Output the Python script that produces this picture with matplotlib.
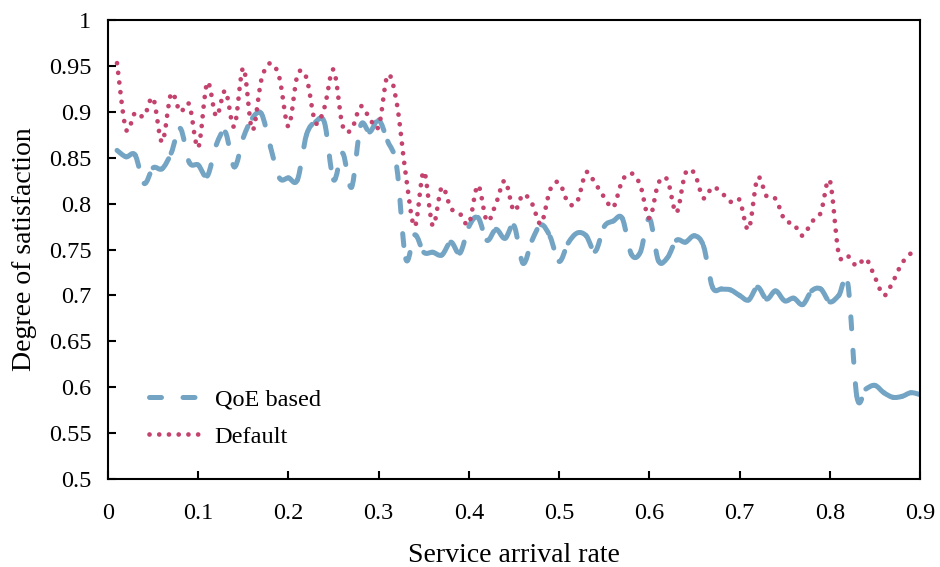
import matplotlib
matplotlib.use("Agg")
import matplotlib.pyplot as plt
import numpy as np
from matplotlib.path import Path
from matplotlib.patches import PathPatch
from matplotlib.lines import Line2D
from matplotlib.ticker import FuncFormatter, MultipleLocator

# service arrival rate, one sample every 0.01
rates = [round(i * 0.01, 2) for i in range(1, 91)]

qoe_based = [
    0.858, 0.851, 0.853, 0.822, 0.839, 0.838, 0.855, 0.882, 0.845, 0.842,
    0.830, 0.864, 0.878, 0.840, 0.872, 0.893, 0.898, 0.862, 0.828, 0.828,
    0.826, 0.875, 0.889, 0.888, 0.826, 0.855, 0.818, 0.885, 0.878, 0.891,
    0.868, 0.840, 0.740, 0.766, 0.747, 0.747, 0.744, 0.758, 0.746, 0.775,
    0.785, 0.760, 0.772, 0.762, 0.776, 0.735, 0.760, 0.777, 0.764, 0.737,
    0.757, 0.768, 0.765, 0.748, 0.775, 0.781, 0.784, 0.745, 0.747, 0.784,
    0.738, 0.741, 0.760, 0.758, 0.765, 0.754, 0.709, 0.707, 0.706, 0.700,
    0.695, 0.709, 0.696, 0.705, 0.694, 0.697, 0.690, 0.705, 0.707, 0.693,
    0.700, 0.713, 0.590, 0.598, 0.602, 0.594, 0.589, 0.590, 0.594, 0.592,
]

default = [
    0.953, 0.881, 0.899, 0.895, 0.915, 0.867, 0.920, 0.900, 0.908, 0.861,
    0.932, 0.895, 0.923, 0.884, 0.948, 0.880, 0.935, 0.953, 0.937, 0.884,
    0.940, 0.937, 0.888, 0.905, 0.946, 0.885, 0.881, 0.906, 0.893, 0.884,
    0.940, 0.910, 0.832, 0.775, 0.835, 0.776, 0.818, 0.795, 0.789, 0.778,
    0.820, 0.781, 0.800, 0.825, 0.792, 0.810, 0.800, 0.778, 0.815, 0.823,
    0.801, 0.802, 0.834, 0.822, 0.807, 0.796, 0.825, 0.833, 0.820, 0.784,
    0.822, 0.826, 0.790, 0.833, 0.833, 0.806, 0.818, 0.812, 0.802, 0.804,
    0.772, 0.828, 0.808, 0.805, 0.782, 0.778, 0.765, 0.780, 0.790, 0.825,
    0.745, 0.743, 0.732, 0.740, 0.720, 0.700, 0.715, 0.735, 0.746,
]

QOE_COLOR = "#74a4c4"
DEFAULT_COLOR = "#c3436e"
QOE_STYLE = dict(linewidth=3.6, linestyle=(0, (2.4, 4.3)))
DEFAULT_STYLE = dict(linewidth=3.4, linestyle=(0, (0.01, 2.05)))

plt.rcParams["font.family"] = ["Liberation Serif", "DejaVu Serif"]


# smoothed (bezier) line; with restart=True every piece is its own patch,
# so the dash pattern starts again at each data point
def smooth_line(ax, xs, ys, color, style, restart):
    pts = np.column_stack([xs, ys])
    n = len(pts)
    pieces = []
    for i in range(n - 1):
        p0 = pts[max(i - 1, 0)]
        p1 = pts[i]
        p2 = pts[i + 1]
        p3 = pts[min(i + 2, n - 1)]
        c1 = p1 + (p2 - p0) / 6.0
        c2 = p2 - (p3 - p1) / 6.0
        pieces.append((p1, c1, c2, p2))

    if restart:
        paths = [Path(list(pc), [Path.MOVETO] + [Path.CURVE4] * 3) for pc in pieces]
    else:
        verts = [pieces[0][0]]
        for pc in pieces:
            verts.extend(pc[1:])
        codes = [Path.MOVETO] + [Path.CURVE4] * (len(verts) - 1)
        paths = [Path(verts, codes)]

    for path in paths:
        ax.add_patch(PathPatch(path, fill=False, edgecolor=color,
                               capstyle="round", joinstyle="round", **style))


fig = plt.figure(figsize=(9.4, 5.67), dpi=100)
ax = fig.add_axes([0.1149, 0.1552, 0.8638, 0.8095])

smooth_line(ax, rates, qoe_based, QOE_COLOR, QOE_STYLE, restart=True)
smooth_line(ax, rates[:len(default)], default, DEFAULT_COLOR, DEFAULT_STYLE,
            restart=False)

ax.set_xlim(0, 0.9)
ax.set_ylim(0.5, 1)
ax.xaxis.set_major_locator(MultipleLocator(0.1))
ax.yaxis.set_major_locator(MultipleLocator(0.05))
fmt = FuncFormatter(lambda v, _: f"{v:g}")
ax.xaxis.set_major_formatter(fmt)
ax.yaxis.set_major_formatter(fmt)

ax.tick_params(axis="both", direction="in", length=6, width=1.5,
               labelsize=17.5, colors="black")
ax.tick_params(axis="y", pad=12)
ax.tick_params(axis="x", pad=17)
for spine in ax.spines.values():
    spine.set_linewidth(1.5)
    spine.set_color("black")

ax.set_xlabel("Service arrival rate", fontsize=20)
ax.set_ylabel("Degree of satisfaction", fontsize=20)
ax.xaxis.set_label_coords(0.5, -0.14)
ax.yaxis.set_label_coords(-0.088, 0.5)

handles = [
    Line2D([], [], color=QOE_COLOR, dash_capstyle="round", **QOE_STYLE),
    Line2D([], [], color=DEFAULT_COLOR, dash_capstyle="round", **DEFAULT_STYLE),
]
ax.legend(handles, ["QoE based", "Default"], loc="upper left",
          bbox_to_anchor=(0.05, 0.197), frameon=False, fontsize=17.5,
          handlelength=2.1, handletextpad=0.62, labelspacing=0.62,
          borderpad=0, borderaxespad=0)

fig.savefig("out.png", dpi=100)
